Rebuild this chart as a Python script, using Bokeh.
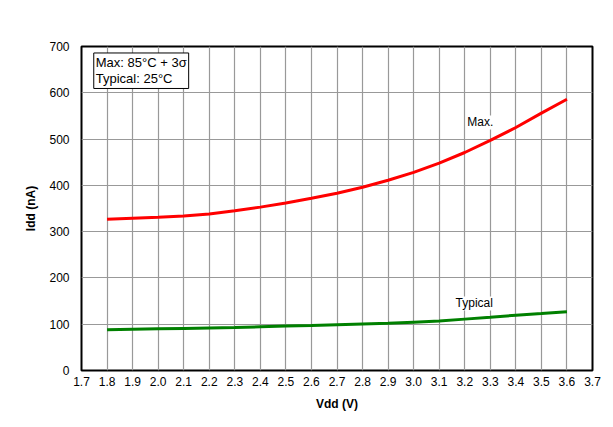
from bokeh.plotting import figure
from bokeh.models import FixedTicker, Label, NumeralTickFormatter, Range1d
from bokeh.embed import file_html
from bokeh.resources import INLINE

vdd = [1.8, 1.9, 2.0, 2.1, 2.2, 2.3, 2.4, 2.5, 2.6, 2.7, 2.8, 2.9, 3.0, 3.1, 3.2, 3.3, 3.4, 3.5, 3.6]
idd_max = [327, 329, 331, 334, 338, 345, 353, 362, 372, 383, 396, 411, 428, 448, 471, 497, 525, 556, 586]
idd_typ = [88, 89, 90, 91, 92, 93, 94.5, 96, 97, 99, 100.5, 102, 104.5, 107, 111, 115, 119.5, 123, 127]
x_ticks = [1.7, 1.8, 1.9, 2.0, 2.1, 2.2, 2.3, 2.4, 2.5, 2.6, 2.7, 2.8, 2.9, 3.0, 3.1, 3.2, 3.3, 3.4, 3.5, 3.6, 3.7]
y_ticks = [0, 100, 200, 300, 400, 500, 600, 700]
legend_text = "Max: 85°C + 3σ\nTypical: 25°C"

FONT = "Liberation Sans"

p = figure(width=605, height=419, output_backend="svg", toolbar_location=None,
           x_range=Range1d(1.7, 3.7), y_range=Range1d(0, 700),
           min_border_left=81, min_border_right=13, min_border_top=46, min_border_bottom=49)

p.outline_line_color = "black"
p.outline_line_width = 2
p.background_fill_color = "white"
p.border_fill_color = "white"

for ax in (p.xaxis[0], p.yaxis[0]):
    ax.axis_line_color = None
    ax.major_tick_line_color = None
    ax.minor_tick_line_color = None
    ax.major_tick_out = 0
    ax.major_tick_in = 0
    ax.major_label_text_font = FONT
    ax.major_label_text_font_size = "12px"
    ax.major_label_text_color = "black"
    ax.axis_label_text_font = FONT
    ax.axis_label_text_font_size = "12px"
    ax.axis_label_text_font_style = "bold"
    ax.axis_label_text_color = "black"

p.xaxis.ticker = FixedTicker(ticks=x_ticks)
p.xaxis.formatter = NumeralTickFormatter(format="0.0")
p.xaxis.major_label_standoff = 6
p.xaxis.axis_label = "Vdd (V)"
p.xaxis.axis_label_standoff = 8

p.yaxis.ticker = FixedTicker(ticks=y_ticks)
p.yaxis.major_label_standoff = 12
p.yaxis.axis_label = "Idd (nA)"
p.yaxis.axis_label_standoff = 8

p.xgrid.ticker = FixedTicker(ticks=x_ticks)
p.ygrid.ticker = FixedTicker(ticks=y_ticks)
p.grid.grid_line_color = "#999999"
p.grid.grid_line_width = 1.2

p.line(vdd, idd_max, line_color="#ff0000", line_width=3)
p.line(vdd, idd_typ, line_color="#008000", line_width=3)

p.add_layout(Label(x=3.21, y=536, text="Max.", text_font=FONT, text_font_size="12px",
                   text_baseline="middle", text_align="left", background_fill_color="white",
                   text_color="black"))
p.add_layout(Label(x=3.164, y=145, text="Typical", text_font=FONT, text_font_size="12px",
                   text_baseline="middle", text_align="left", background_fill_color="white",
                   text_color="black"))
p.add_layout(Label(x=1.748, y=686, text=legend_text, text_font=FONT, text_font_size="13px",
                   text_baseline="top", text_align="left", text_line_height=1.1,
                   background_fill_color="white", border_line_color="black", border_line_width=1,
                   padding=2, text_color="black"))

open("out.html", "w").write(file_html(p, INLINE))
